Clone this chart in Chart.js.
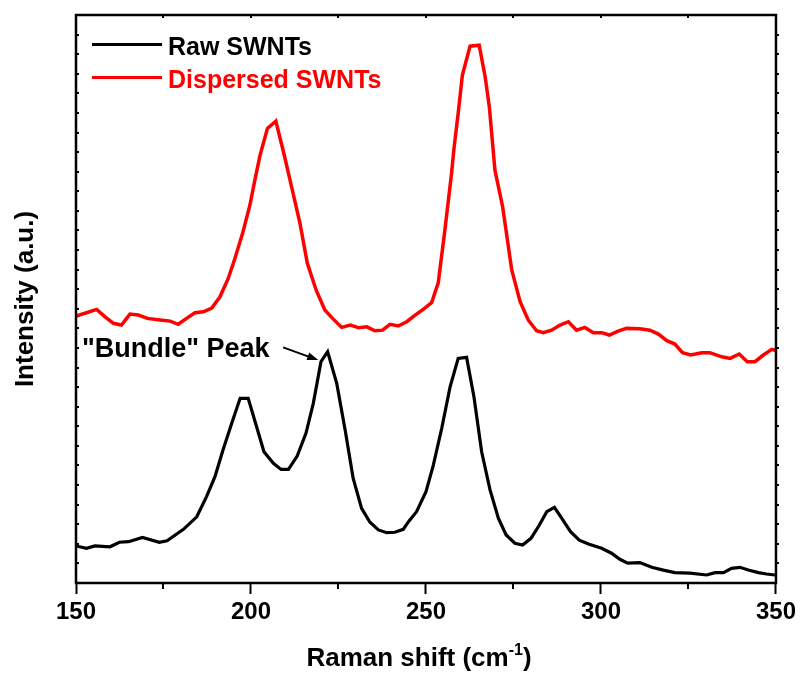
<!DOCTYPE html>
<html>
<head>
<meta charset="utf-8">
<script src="https://cdn.jsdelivr.net/npm/chart.js@4.4.1/dist/chart.umd.min.js"></script>
<style>
  html, body { margin: 0; padding: 0; background: #fff; }
  #wrap { width: 800px; height: 675px; position: relative; }
</style>
</head>
<body>
<div id="wrap"><canvas id="myChart"></canvas></div>
<script>
// Raman shift (cm-1) and intensity (a.u.)
const rawShift = [150.0, 153.0, 155.4, 159.7, 162.4, 165.0, 169.0, 173.8, 176.0, 180.7, 184.5, 187.3, 189.7, 192.0, 194.5, 196.9, 199.2, 201.6, 203.7, 206.4, 208.6, 210.7, 213.2, 215.7, 217.8, 220.0, 221.9, 224.5, 226.9, 229.2, 231.6, 234.0, 236.4, 238.8, 241.1, 243.5, 245.0, 247.3, 250.0, 252.1, 254.5, 256.9, 259.2, 261.6, 263.7, 265.9, 268.3, 270.7, 272.9, 275.4, 277.6, 280.0, 282.4, 284.5, 286.7, 289.0, 291.3, 293.8, 296.4, 300.2, 303.0, 305.4, 307.6, 311.1, 314.5, 317.8, 321.1, 325.4, 330.2, 332.6, 335.0, 337.3, 339.7, 342.1, 345.0, 347.3, 349.7];
const rawInt = [1.89, 1.77, 1.89, 1.85, 2.08, 2.11, 2.33, 2.08, 2.16, 2.74, 3.38, 4.41, 5.43, 6.79, 8.15, 9.43, 9.43, 7.98, 6.70, 6.11, 5.80, 5.80, 6.48, 7.64, 9.17, 11.30, 11.81, 10.19, 7.81, 5.34, 3.81, 3.10, 2.71, 2.57, 2.59, 2.74, 3.13, 3.64, 4.66, 6.02, 7.90, 10.02, 11.47, 11.52, 9.51, 6.70, 4.75, 3.30, 2.45, 2.03, 1.94, 2.28, 2.96, 3.64, 3.86, 3.25, 2.62, 2.19, 1.99, 1.77, 1.52, 1.21, 1.01, 1.04, 0.80, 0.66, 0.53, 0.50, 0.41, 0.53, 0.53, 0.75, 0.80, 0.66, 0.53, 0.46, 0.41];

const dispShift = [150.0, 153.0, 155.9, 158.3, 160.7, 163.0, 165.4, 167.8, 170.4, 174.0, 176.9, 179.2, 181.6, 184.0, 186.4, 188.8, 191.1, 193.5, 195.4, 197.6, 199.7, 201.1, 202.6, 204.7, 207.1, 209.5, 211.6, 214.0, 216.1, 218.6, 221.1, 223.3, 225.9, 228.4, 230.8, 233.1, 235.4, 237.6, 239.7, 242.1, 244.5, 246.9, 249.2, 251.6, 253.5, 255.4, 257.3, 258.0, 259.2, 260.4, 262.6, 265.2, 266.9, 268.1, 269.7, 271.9, 274.5, 276.9, 279.2, 281.6, 283.5, 285.9, 288.3, 290.7, 293.0, 295.4, 297.8, 300.2, 302.4, 304.9, 307.3, 311.1, 314.0, 316.4, 318.8, 321.1, 323.3, 325.6, 328.8, 331.1, 334.5, 336.9, 339.5, 341.8, 344.0, 346.4, 348.8, 350.0];
const dispInt = [13.63, 13.80, 13.97, 13.59, 13.26, 13.17, 13.73, 13.68, 13.51, 13.43, 13.37, 13.21, 13.51, 13.80, 13.85, 14.04, 14.60, 15.55, 16.57, 17.85, 19.30, 20.57, 21.85, 23.21, 23.58, 21.85, 20.23, 18.36, 16.32, 14.96, 13.94, 13.51, 13.05, 13.17, 13.03, 13.08, 12.88, 12.91, 13.21, 13.12, 13.34, 13.68, 13.97, 14.31, 15.33, 18.02, 20.91, 22.19, 23.98, 25.93, 27.41, 27.46, 25.85, 24.31, 21.08, 19.21, 15.98, 14.36, 13.43, 12.88, 12.78, 12.91, 13.17, 13.34, 12.91, 13.05, 12.78, 12.78, 12.66, 12.86, 13.00, 12.98, 12.91, 12.71, 12.37, 12.20, 11.76, 11.64, 11.76, 11.76, 11.55, 11.47, 11.69, 11.30, 11.30, 11.64, 11.93, 11.86];

const seriesNames = ['Raw SWNTs', 'Dispersed SWNTs'];
const seriesColors = ['#000000', '#ff0000'];
const xMajor = [150, 200, 250, 300, 350];

// "Bundle" Peak label and arrow, in data units
const note = { text: '"Bundle" Peak', x: 151.7, y: 11.54, tailX: 209.2, tailY: 12.03, headX: 219.2, headY: 11.38 };

const FONT = '"Liberation Sans", Arial, sans-serif';

function pairs(xs, ys) {
    return xs.map((v, i) => ({ x: v, y: ys[i] }));
}

const decor = {
    id: 'decor',
    afterDraw(chart) {
        const { ctx, chartArea: a, scales: { x, y } } = chart;
        ctx.save();
        ctx.strokeStyle = '#000';
        ctx.lineWidth = 2.5;
        ctx.strokeRect(a.left, a.top, a.right - a.left, a.bottom - a.top);

        // minor ticks bottom, small ticks top
        ctx.lineWidth = 2;
        for (let v = 150; v <= 350; v += 25) {
            const px = Math.round(x.getPixelForValue(v));
            if (v % 50 !== 0) {
                ctx.beginPath(); ctx.moveTo(px, a.bottom); ctx.lineTo(px, a.bottom + 6); ctx.stroke();
            }
            ctx.beginPath(); ctx.moveTo(px, a.top); ctx.lineTo(px, a.top + 3); ctx.stroke();
        }
        // y ticks (no labels)
        for (let v = 1; v < 29; v++) {
            const py = Math.round(y.getPixelForValue(v));
            ctx.beginPath(); ctx.moveTo(a.left, py); ctx.lineTo(a.left + 3, py); ctx.stroke();
            ctx.beginPath(); ctx.moveTo(a.right, py); ctx.lineTo(a.right + 3, py); ctx.stroke();
        }

        // legend
        chart.data.datasets.forEach((ds, i) => {
            const ly = 44.5 + i * 33;
            ctx.strokeStyle = ds.borderColor;
            ctx.lineWidth = 3.2;
            ctx.beginPath(); ctx.moveTo(92, ly); ctx.lineTo(162, ly); ctx.stroke();
            ctx.fillStyle = ds.borderColor;
            ctx.font = 'bold 25px ' + FONT;
            ctx.textBaseline = 'alphabetic';
            ctx.textAlign = 'left';
            ctx.fillText(ds.label, 168, ly + 10);
        });

        // annotation
        ctx.fillStyle = '#000';
        ctx.strokeStyle = '#000';
        ctx.font = 'bold 27px ' + FONT;
        ctx.fillText(note.text, x.getPixelForValue(note.x), y.getPixelForValue(note.y));
        const tx = x.getPixelForValue(note.tailX), ty = y.getPixelForValue(note.tailY);
        const hx = x.getPixelForValue(note.headX), hy = y.getPixelForValue(note.headY);
        const ang = Math.atan2(hy - ty, hx - tx);
        ctx.lineWidth = 2;
        ctx.beginPath(); ctx.moveTo(tx, ty); ctx.lineTo(hx - 8 * Math.cos(ang), hy - 8 * Math.sin(ang)); ctx.stroke();
        ctx.beginPath();
        ctx.moveTo(hx, hy);
        ctx.lineTo(hx - 11 * Math.cos(ang) + 4 * Math.sin(ang), hy - 11 * Math.sin(ang) - 4 * Math.cos(ang));
        ctx.lineTo(hx - 11 * Math.cos(ang) - 4 * Math.sin(ang), hy - 11 * Math.sin(ang) + 4 * Math.cos(ang));
        ctx.closePath();
        ctx.fill();

        // x axis title with superscript
        const main = 'Raman shift (cm', sup = '-1', close = ')';
        ctx.font = 'bold 26px ' + FONT;
        const w1 = ctx.measureText(main).width, w3 = ctx.measureText(close).width;
        ctx.font = 'bold 16px ' + FONT;
        const w2 = ctx.measureText(sup).width;
        let sx = 419 - (w1 + w2 + w3) / 2;
        const base = 666;
        ctx.font = 'bold 26px ' + FONT;
        ctx.fillText(main, sx, base);
        ctx.font = 'bold 16px ' + FONT;
        ctx.fillText(sup, sx + w1, base - 11);
        ctx.font = 'bold 26px ' + FONT;
        ctx.fillText(close, sx + w1 + w2, base);
        ctx.restore();
    }
};

new Chart(document.getElementById('myChart'), {
    type: 'line',
    data: {
        datasets: [
            { label: seriesNames[0], data: pairs(rawShift, rawInt), borderColor: seriesColors[0], borderWidth: 3.2, pointRadius: 0, tension: 0 },
            { label: seriesNames[1], data: pairs(dispShift, dispInt), borderColor: seriesColors[1], borderWidth: 3.5, pointRadius: 0, tension: 0 }
        ]
    },
    options: {
        responsive: true,
        maintainAspectRatio: false,
        animation: false,
        layout: { padding: { top: 15, right: 24, left: 0, bottom: 0 } },
        plugins: { legend: { display: false }, tooltip: { enabled: false } },
        scales: {
            x: {
                type: 'linear',
                min: 150,
                max: 350,
                afterFit: s => { s.height = 92; },
                border: { display: false },
                grid: {
                    drawOnChartArea: false,
                    tickLength: 11,
                    tickWidth: 2,
                    tickColor: c => (c.tick && c.tick.value % 50 === 0) ? '#000' : 'rgba(0,0,0,0)'
                },
                ticks: {
                    stepSize: 25,
                    autoSkip: false,
                    maxRotation: 0,
                    padding: 4,
                    color: '#000',
                    font: { family: FONT, size: 24, weight: 'bold' },
                    callback: v => xMajor.includes(v) ? String(v) : ''
                }
            },
            y: {
                min: 0,
                max: 29,
                afterFit: s => { s.width = 76; },
                border: { display: false },
                grid: { display: false },
                ticks: { display: false },
                title: {
                    display: true,
                    text: 'Intensity (a.u.)',
                    color: '#000',
                    font: { family: FONT, size: 26, weight: 'bold' },
                    padding: { top: 10, bottom: 0 }
                }
            }
        }
    },
    plugins: [decor]
});
</script>
</body>
</html>
